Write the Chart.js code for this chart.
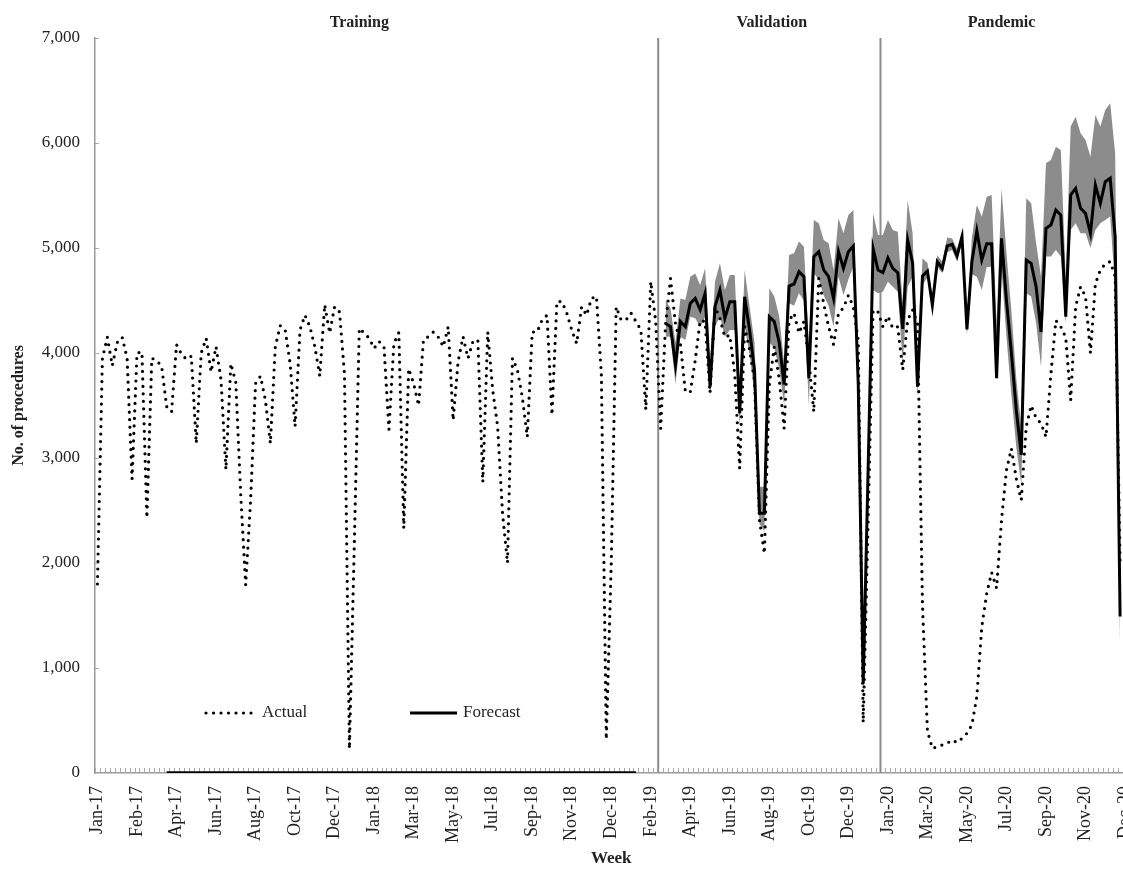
<!DOCTYPE html>
<html>
<head>
<meta charset="utf-8">
<script src="https://cdn.jsdelivr.net/npm/chart.js@4.4.1/dist/chart.umd.min.js"></script>
<style>
  html, body { margin: 0; padding: 0; background: #fff; overflow: hidden; }
  #wrap { position: absolute; left: 0; top: 0; width: 1130px; height: 869px; }
</style>
</head>
<body>
<div id="wrap"><canvas id="chart" width="1130" height="869"></canvas></div>
<script>
// weekly series, week 0 = first week of Jan 2017
const weekCount = 209;
const tickEvery = 8;
const tickLabels = ['Jan-17', 'Feb-17', 'Apr-17', 'Jun-17', 'Aug-17', 'Oct-17', 'Dec-17',
  'Jan-18', 'Mar-18', 'May-18', 'Jul-18', 'Sep-18', 'Nov-18', 'Dec-18',
  'Feb-19', 'Apr-19', 'Jun-19', 'Aug-19', 'Oct-19', 'Dec-19',
  'Jan-20', 'Mar-20', 'May-20', 'Jul-20', 'Sep-20', 'Nov-20', 'Dec-20'];

const actual = [
  1800, 3950, 4150, 3880, 4100, 4150, 3950, 2800, 4000, 4010,
  2430, 3950, 3930, 3870, 3490, 3440, 4080, 3990, 3940, 3970,
  3140, 4000, 4140, 3820, 4060, 3750, 2890, 3900, 3720, 2650,
  1790, 2600, 3710, 3780, 3550, 3140, 4060, 4260, 4220, 3900,
  3300, 4220, 4360, 4250, 4060, 3780, 4460, 4190, 4440, 4390,
  3800, 230, 2200, 4235, 4190, 4140, 4045, 4110, 4060, 3270,
  4090, 4195, 2330, 3850, 3710, 3500, 4130, 4155, 4200, 4150,
  4060, 4250, 3360, 3920, 4155, 3950, 4110, 4125, 2770, 4200,
  3650, 3300, 2470, 2000, 3950, 3840, 3580, 3200, 4200, 4200,
  4315, 4360, 3410, 4490, 4490, 4380, 4220, 4090, 4440, 4360,
  4520, 4540, 3800, 320, 2000, 4440, 4315, 4315, 4380, 4300,
  4220, 3460, 4680, 4300, 3280, 4280, 4710, 4280, 4090, 3630,
  3630, 3930, 4310, 4300, 3620, 4440, 4330, 4150, 4170, 3800,
  2900, 4250, 4030, 3740, 2410, 2090, 3700, 4060, 3750, 3280,
  4310, 4380, 4190, 4300, 3930, 3440, 4710, 4470, 4250, 4080,
  4380, 4430, 4550, 4440, 4120, 480, 2400, 4410, 4390, 4250,
  4350, 4235, 4250, 3840, 4315, 4410, 4280, 1600, 400, 235,
  250, 267, 283, 314, 290, 330, 378, 457, 727, 1390,
  1710, 1910, 1760, 2410, 2885, 3090, 2800, 2600, 3300, 3500,
  3380, 3330, 3200, 3800, 4310, 4250, 4150, 3550, 4440, 4630,
  4540, 4000, 4660, 4790, 4850, 4870, 4730, 2000, null
];

// forecast and its interval start at week 115
const forecastStart = 115;
const forecast = [
  4280, 4250, 3885, 4300, 4250, 4473, 4520, 4410, 4568, 3679,
  4441, 4600, 4330, 4489, 4489, 3425, 4536, 4219, 3838, 2473,
  2473, 4346, 4299, 4100, 3700, 4638, 4657, 4775, 4727, 3759,
  4918, 4965, 4791, 4727, 4521, 4965, 4807, 4965, 5019, 3700,
  850, 2900, 4997, 4790, 4765, 4905, 4806, 4765, 4230, 5077,
  4860, 3680, 4735, 4780, 4457, 4870, 4805, 5020, 5035, 4925,
  5105, 4225, 4870, 5165, 4885, 5040, 5040, 3760, 5092, 4500,
  4000, 3450, 3030, 4886, 4854, 4632, 4200, 5187, 5219, 5362,
  5314, 4346, 5505, 5568, 5378, 5330, 5140, 5600, 5426, 5632,
  5664, 5108, 1490
];
const upper = [
  4505, 4425, 4100, 4520, 4505, 4727, 4758, 4647, 4806, 3870,
  4679, 4854, 4600, 4743, 4743, 3616, 4790, 4441, 4100, 2726,
  2726, 4616, 4537, 4350, 3900, 4934, 4950, 5061, 5013, 4060,
  5267, 5235, 5077, 5045, 4791, 5283, 5140, 5315, 5362, 3900,
  950, 3100, 5330, 5123, 5123, 5266, 5171, 5155, 4480, 5457,
  5140, 3800, 4900, 4860, 4530, 4930, 4870, 5100, 5090, 4990,
  5170, 4290, 5100, 5409, 5298, 5488, 5504, 4283, 5568, 4950,
  4400, 3750, 3300, 5473, 5426, 5045, 4727, 5807, 5838, 5965,
  5934, 4727, 6156, 6251, 6092, 6029, 5870, 6267, 6156, 6315,
  6378, 5900, 1900
];
const lower = [
  4155, 4155, 3700, 4155, 4124, 4346, 4330, 4250, 4346, 3584,
  4250, 4346, 4155, 4219, 4219, 3298, 4250, 3990, 3600, 2377,
  2300, 4100, 4050, 3850, 3500, 4473, 4450, 4570, 4500, 3500,
  4760, 4700, 4550, 4450, 4250, 4727, 4550, 4700, 4823, 3500,
  780, 2700, 4600, 4568, 4584, 4679, 4631, 4584, 3900, 4631,
  4727, 3580, 4650, 4720, 4400, 4820, 4760, 4960, 4980, 4870,
  5050, 4170, 4750, 4727, 4600, 4820, 4822, 3743, 4790, 4150,
  3600, 3100, 2742, 4568, 4537, 4283, 3870, 4918, 4918, 4981,
  4918, 4283, 5172, 5235, 5140, 5140, 5000, 5172, 5235, 5267,
  5299, 4600, 1170
];

// thick black bar on the axis, first and last week
const baseBar = [14, 109];

// section dividers and headings (week positions)
const sectionBreaks = [113.5, 158.5];
const sectionNames = ['Training', 'Validation', 'Pandemic'];
const sectionTitleAt = [53, 136.5, 183];

const serif = '"Liberation Serif", "DejaVu Serif", serif';
Chart.defaults.font.family = serif;
Chart.defaults.color = '#222';

function padForecast(arr) {
  const out = new Array(forecastStart).fill(null).concat(arr);
  while (out.length < weekCount) out.push(null);
  return out;
}

const labels = [];
const baseLine = [];
for (let i = 0; i < weekCount; i++) {
  labels.push(i % tickEvery === 0 ? tickLabels[i / tickEvery] : '');
  baseLine.push(i >= baseBar[0] && i <= baseBar[1] ? 0 : null);
}

// axis ticks, dividers, headings and the legend
const decorations = {
  id: 'decorations',
  beforeDatasetsDraw(chart) {
    const { ctx, chartArea: a, scales: { x, y } } = chart;
    const half = (x.getPixelForValue(1) - x.getPixelForValue(0)) / 2;
    ctx.save();
    ctx.strokeStyle = '#a8a8a8';
    ctx.lineWidth = 1;
    ctx.beginPath();
    for (let i = 0; i <= weekCount; i++) {
      const px = Math.round(x.getPixelForValue(i) - half) + 0.5;
      ctx.moveTo(px, a.bottom);
      ctx.lineTo(px, a.bottom - 5);
    }
    for (let v = 1000; v <= 7000; v += 1000) {
      const py = Math.round(y.getPixelForValue(v)) + 0.5;
      ctx.moveTo(a.left, py);
      ctx.lineTo(a.left + 4, py);
    }
    ctx.stroke();

    ctx.strokeStyle = '#8c8c8c';
    ctx.lineWidth = 2;
    sectionBreaks.forEach(b => {
      const px = x.getPixelForValue(b);
      ctx.beginPath();
      ctx.moveTo(px, a.top);
      ctx.lineTo(px, a.bottom);
      ctx.stroke();
    });
    ctx.restore();
  },
  afterDraw(chart) {
    const { ctx, chartArea: a, scales: { x } } = chart;
    ctx.save();
    ctx.fillStyle = '#222';
    ctx.font = 'bold 16px ' + serif;
    ctx.textAlign = 'center';
    ctx.textBaseline = 'middle';
    sectionNames.forEach((name, i) => {
      ctx.fillText(name, x.getPixelForValue(sectionTitleAt[i]), a.top - 15);
    });

    // legend inside the plot
    const ly = a.bottom - 60;
    ctx.strokeStyle = '#000';
    ctx.lineCap = 'round';
    ctx.lineWidth = 3.2;
    ctx.setLineDash([0, 7.5]);
    ctx.beginPath();
    ctx.moveTo(a.left + 111, ly);
    ctx.lineTo(a.left + 162, ly);
    ctx.stroke();
    ctx.setLineDash([]);
    ctx.lineCap = 'butt';
    ctx.lineWidth = 3;
    ctx.beginPath();
    ctx.moveTo(a.left + 315, ly);
    ctx.lineTo(a.left + 362, ly);
    ctx.stroke();

    ctx.font = '17px ' + serif;
    ctx.textAlign = 'left';
    ctx.fillText('Actual', a.left + 167, ly);
    ctx.fillText('Forecast', a.left + 368, ly);
    ctx.restore();
  }
};

const ctx = document.getElementById('chart').getContext('2d');
new Chart(ctx, {
  type: 'line',
  data: {
    labels: labels,
    datasets: [{
      label: 'Actual',
      data: actual,
      borderColor: '#000',
      borderWidth: 3.2,
      borderDash: [0, 7.5],
      borderCapStyle: 'round',
      pointRadius: 0,
      fill: false,
      order: 0
    }, {
      label: 'Forecast',
      data: padForecast(forecast),
      borderColor: '#000',
      borderWidth: 3,
      pointRadius: 0,
      fill: false,
      order: 1
    }, {
      label: 'Upper',
      data: padForecast(upper),
      borderWidth: 0,
      borderColor: 'rgba(0,0,0,0)',
      backgroundColor: '#8c8c8c',
      pointRadius: 0,
      fill: '+1',
      order: 2
    }, {
      label: 'Lower',
      data: padForecast(lower),
      borderWidth: 0,
      borderColor: 'rgba(0,0,0,0)',
      pointRadius: 0,
      fill: false,
      order: 3
    }, {
      label: 'Bar',
      data: baseLine,
      borderColor: '#000',
      borderWidth: 3.5,
      pointRadius: 0,
      fill: false,
      order: 4
    }]
  },
  options: {
    responsive: false,
    animation: false,
    layout: { padding: { top: 38, right: 2.5, bottom: 0, left: 0 } },
    plugins: {
      legend: { display: false },
      tooltip: { enabled: false }
    },
    scales: {
      x: {
        type: 'category',
        offset: true,
        grid: { display: false },
        border: { display: true, color: '#9a9a9a', width: 1.5 },
        ticks: {
          autoSkip: false,
          minRotation: 90,
          maxRotation: 90,
          padding: 5,
          font: { size: 18 }
        },
        title: {
          display: true,
          text: 'Week',
          font: { size: 17, weight: 'bold' },
          padding: 0
        },
        afterFit: s => { s.height = 96; s.paddingLeft = 0; s.paddingRight = 0; }
      },
      y: {
        min: 0,
        max: 7000,
        grid: { display: false },
        border: { display: true, color: '#9a9a9a', width: 1.5 },
        ticks: {
          stepSize: 1000,
          padding: 7,
          font: { size: 17 },
          callback: v => v.toLocaleString('en-US')
        },
        title: {
          display: true,
          text: 'No. of procedures',
          font: { size: 16, weight: 'bold' },
          padding: 9
        },
        afterFit: s => { s.width = 95; }
      }
    }
  },
  plugins: [decorations]
});
</script>
</body>
</html>
